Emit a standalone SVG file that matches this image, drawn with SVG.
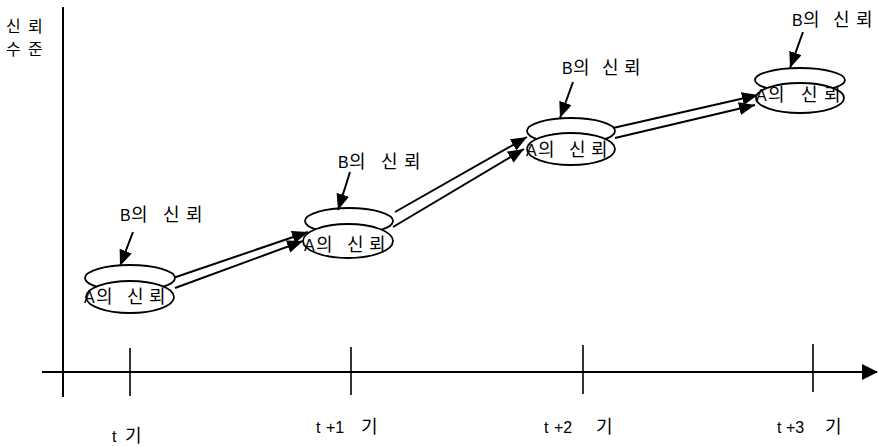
<svg xmlns="http://www.w3.org/2000/svg" width="879" height="446" viewBox="0 0 879 446">
<style>
.t{font-family:"Liberation Sans","Noto Sans CJK KR",sans-serif;font-size:16px;fill:#000}
.k{font-family:"Noto Sans CJK KR",sans-serif;font-size:18px}
.h{font-family:"Noto Sans CJK KR",sans-serif;font-size:16px;fill:#000}
.ax{stroke:#000;stroke-width:2;fill:none}
.tk{stroke:#000;stroke-width:1.6}
.el{fill:#fff;stroke:#000;stroke-width:1.8}
.cn{stroke:#000;stroke-width:2;fill:none;marker-end:url(#ah)}
.pt{stroke:#000;stroke-width:2;fill:none;marker-end:url(#ah)}
</style>
<defs>
<marker id="ah" markerUnits="userSpaceOnUse" markerWidth="17" markerHeight="13" refX="16" refY="6.5" orient="auto">
<path d="M0,0 L16,6.5 L0,13 Z" fill="#000"/>
</marker>
<marker id="axh" markerUnits="userSpaceOnUse" markerWidth="16" markerHeight="16" refX="15" refY="8" orient="auto">
<path d="M0,0 L16,8 L0,16 Z" fill="#000"/>
</marker>
</defs>
<rect width="879" height="446" fill="#fff"/>
<g id="axes">
<line class="ax" x1="63" y1="7" x2="63" y2="397"/>
<line class="ax" x1="42" y1="372" x2="877" y2="372" marker-end="url(#axh)"/>
<line class="tk" x1="130" y1="348" x2="130" y2="396"/>
<line class="tk" x1="351" y1="347" x2="351" y2="395"/>
<line class="tk" x1="583" y1="345" x2="583" y2="394"/>
<line class="tk" x1="813" y1="344" x2="813" y2="392"/>
<text class="h" y="32"><tspan x="6">신</tspan><tspan x="28">뢰</tspan></text>
<text class="h" y="55"><tspan x="6">수</tspan><tspan x="28">준</tspan></text>
<text class="t" y="442"><tspan x="112">t</tspan><tspan class="k" x="125">기</tspan></text>
<text class="t" y="433"><tspan x="316">t</tspan><tspan x="326">+1</tspan><tspan class="k" x="361">기</tspan></text>
<text class="t" y="433"><tspan x="544">t</tspan><tspan x="554">+2</tspan><tspan class="k" x="596">기</tspan></text>
<text class="t" y="433"><tspan x="777">t</tspan><tspan x="786">+3</tspan><tspan class="k" x="825">기</tspan></text>
</g>
<g id="connectors">
<line class="cn" x1="173" y1="278" x2="308" y2="232"/>
<line class="cn" x1="175" y1="288" x2="303" y2="241"/>
<line class="cn" x1="395" y1="212" x2="527" y2="137"/>
<line class="cn" x1="393" y1="227" x2="524" y2="149"/>
<line class="cn" x1="613" y1="128" x2="758" y2="95"/>
<line class="cn" x1="615" y1="138" x2="755" y2="105"/>
</g>
<g id="node1">
<ellipse class="el" cx="130" cy="278" rx="45" ry="13"/>
<ellipse class="el" cx="130" cy="297" rx="44" ry="16"/>
<text class="t" y="303"><tspan x="84">A</tspan><tspan class="k" x="96">의</tspan><tspan class="k" x="127">신</tspan><tspan class="k" x="149">뢰</tspan></text>
<text class="t" y="221"><tspan x="120">B</tspan><tspan class="k" x="131">의</tspan><tspan class="k" x="163">신</tspan><tspan class="k" x="186">뢰</tspan></text>
<line class="pt" x1="133" y1="232" x2="120" y2="266"/>
</g>
<g id="node2">
<ellipse class="el" cx="349" cy="221" rx="44" ry="13"/>
<ellipse class="el" cx="348" cy="241" rx="45" ry="17"/>
<text class="t" y="251"><tspan x="304">A</tspan><tspan class="k" x="316">의</tspan><tspan class="k" x="347">신</tspan><tspan class="k" x="369">뢰</tspan></text>
<text class="t" y="168"><tspan x="338">B</tspan><tspan class="k" x="349">의</tspan><tspan class="k" x="381">신</tspan><tspan class="k" x="404">뢰</tspan></text>
<line class="pt" x1="350" y1="172" x2="338" y2="210"/>
</g>
<g id="node3">
<ellipse class="el" cx="571" cy="131" rx="44" ry="13"/>
<ellipse class="el" cx="571" cy="149" rx="44" ry="16"/>
<text class="t" y="156"><tspan x="526">A</tspan><tspan class="k" x="538">의</tspan><tspan class="k" x="569">신</tspan><tspan class="k" x="591">뢰</tspan></text>
<text class="t" y="74"><tspan x="562">B</tspan><tspan class="k" x="573">의</tspan><tspan class="k" x="602">신</tspan><tspan class="k" x="624">뢰</tspan></text>
<line class="pt" x1="573" y1="82" x2="560" y2="118"/>
</g>
<g id="node4">
<ellipse class="el" cx="800" cy="80" rx="45" ry="12"/>
<ellipse class="el" cx="800" cy="98" rx="44" ry="15"/>
<text class="t" y="101"><tspan x="756">A</tspan><tspan class="k" x="768">의</tspan><tspan class="k" x="801">신</tspan><tspan class="k" x="824">뢰</tspan></text>
<text class="t" y="26"><tspan x="792">B</tspan><tspan class="k" x="803">의</tspan><tspan class="k" x="833">신</tspan><tspan class="k" x="856">뢰</tspan></text>
<line class="pt" x1="803" y1="32" x2="790" y2="68"/>
</g>
</svg>
